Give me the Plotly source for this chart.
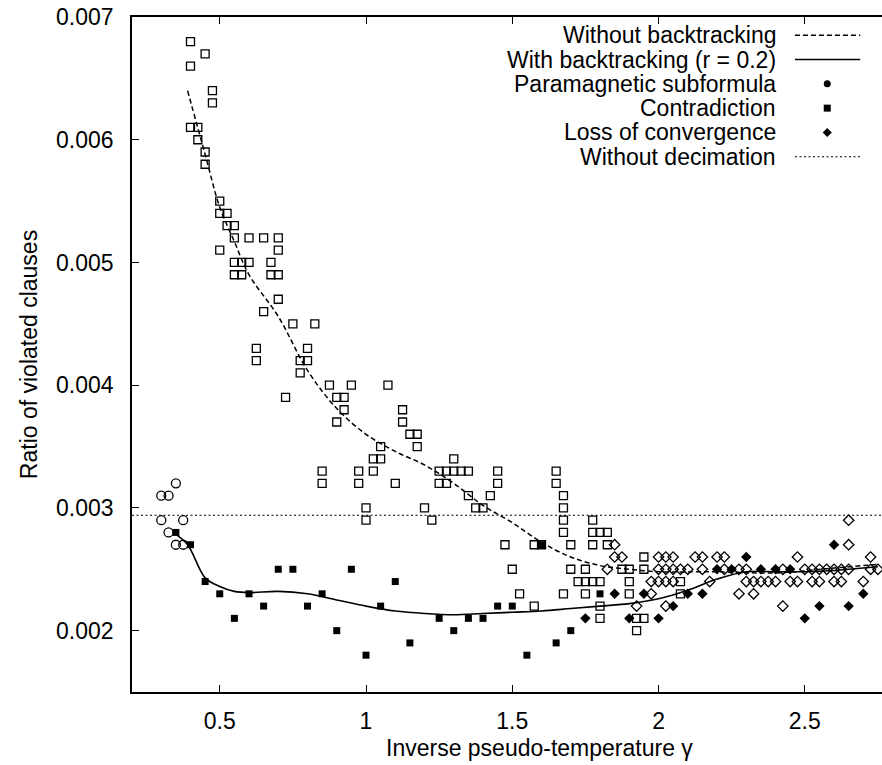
import plotly.graph_objects as go

# ---- Curves (fits) ----
nobt_x = [0.39, 0.45, 0.5, 0.55, 0.6, 0.7, 0.8, 0.9, 1.0, 1.1, 1.2, 1.3, 1.4, 1.5,
          1.6, 1.7, 1.8, 1.9, 2.0, 2.2, 2.4, 2.6, 2.75]
nobt_y = [0.0064, 0.00588, 0.00545, 0.00517, 0.0049, 0.00456, 0.00412, 0.00381, 0.0036,
          0.00346, 0.00335, 0.0032, 0.00302, 0.00288, 0.00272, 0.0026, 0.00253, 0.0025,
          0.00248, 0.00248, 0.00247, 0.00251, 0.00254]

bt_x = [0.34, 0.39, 0.45, 0.5, 0.55, 0.6, 0.7, 0.8, 0.9, 1.0, 1.1, 1.2, 1.3, 1.4, 1.5,
        1.6, 1.7, 1.8, 1.9, 2.0, 2.1, 2.2, 2.3, 2.4, 2.5, 2.6, 2.7, 2.75]
bt_y = [0.0028, 0.0027, 0.00243, 0.00236, 0.00232, 0.00231, 0.00232, 0.0023, 0.00225,
        0.0022, 0.00216, 0.00214, 0.00213, 0.00214, 0.00215, 0.00216, 0.00218, 0.0022,
        0.00222, 0.00226, 0.00233, 0.00242, 0.00248, 0.00248, 0.00248, 0.00249,
        0.00251, 0.00252]

nodec_level = 0.00294

# ---- Runs without backtracking (open symbols) ----
contr_x = [0.4, 0.4, 0.4, 0.45, 0.45, 0.45, 0.425, 0.425, 0.475, 0.475,
           0.5, 0.5, 0.5, 0.525, 0.525, 0.55, 0.55, 0.55, 0.55, 0.575, 0.575,
           0.6, 0.6, 0.625, 0.625, 0.65, 0.65, 0.675, 0.675, 0.7, 0.7, 0.7, 0.7,
           0.725, 0.75, 0.775, 0.775, 0.8, 0.8, 0.825, 0.85, 0.85, 0.875, 0.9, 0.9,
           0.925, 0.925, 0.95, 0.975, 0.975, 1.0, 1.0, 1.025, 1.025, 1.05, 1.05,
           1.075, 1.1, 1.125, 1.125, 1.15, 1.175, 1.175, 1.2, 1.225, 1.25, 1.25,
           1.275, 1.275, 1.3, 1.3, 1.325, 1.35, 1.35, 1.375, 1.4, 1.425, 1.45, 1.45,
           1.475, 1.5, 1.525, 1.575, 1.6, 1.575, 1.65, 1.65, 1.675, 1.675, 1.675,
           1.675, 1.7, 1.7, 1.725, 1.675,
           1.775, 1.775, 1.8, 1.825, 1.775, 1.825, 1.95, 1.75, 1.875, 1.9, 1.95,
           1.75, 1.775, 1.8, 1.9, 2.075, 1.75, 1.9, 2.075, 1.8, 1.8, 1.925, 1.95,
           1.925]
contr_y = [0.0068, 0.0066, 0.0061, 0.0067, 0.0059, 0.0058, 0.0061, 0.0060, 0.0064, 0.0063,
           0.0055, 0.0054, 0.0051, 0.0054, 0.0053, 0.0053, 0.0052, 0.0050, 0.0049, 0.0050,
           0.0049, 0.0052, 0.0050, 0.0043, 0.0042, 0.0052, 0.0046, 0.0050, 0.0049,
           0.0052, 0.0051, 0.0049, 0.0047, 0.0039, 0.0045, 0.0042, 0.0041, 0.0043, 0.0042,
           0.0045, 0.0033, 0.0032, 0.0040, 0.0039, 0.0037, 0.0039, 0.0038, 0.0040,
           0.0033, 0.0032, 0.0030, 0.0029, 0.0034, 0.0033, 0.0035, 0.0034, 0.0040,
           0.0032, 0.0038, 0.0037, 0.0036, 0.0036, 0.0035, 0.0030, 0.0029, 0.0033,
           0.0032, 0.0033, 0.0032, 0.0034, 0.0033, 0.0033, 0.0033, 0.0031, 0.0030,
           0.0030, 0.0031, 0.0033, 0.0032, 0.0027, 0.0025, 0.0023, 0.0027, 0.0027,
           0.0022, 0.0033, 0.0032, 0.0031, 0.0030, 0.0029, 0.0028, 0.0027, 0.0025,
           0.0024, 0.0023,
           0.0029, 0.0028, 0.0028, 0.0028, 0.0027, 0.0027, 0.0026, 0.0025, 0.0025,
           0.0025, 0.0025, 0.0024, 0.0024, 0.0024, 0.0024, 0.0024, 0.0023, 0.0023,
           0.0023, 0.0022, 0.0021, 0.0021, 0.0021, 0.0020]

para_x = [0.35, 0.3, 0.325, 0.3, 0.375, 0.325, 0.35, 0.375]
para_y = [0.0032, 0.0031, 0.0031, 0.0029, 0.0029, 0.0028, 0.0027, 0.0027]

loss_x = [2.65, 1.85, 2.65,
          1.85, 1.875, 2.0, 2.025, 2.05, 2.125, 2.15, 2.2, 2.225, 2.475, 2.725,
          1.825, 2.0, 2.025, 2.05, 2.075, 2.1, 2.15, 2.225, 2.275, 2.3, 2.425, 2.5,
          2.525, 2.55, 2.575, 2.6, 2.625, 2.65, 2.725, 2.75,
          1.975, 2.0, 2.025, 2.05, 2.175, 2.3, 2.325, 2.35, 2.375, 2.4, 2.45, 2.475,
          2.525, 2.55, 2.6, 2.625, 2.7,
          1.975, 2.275, 2.325, 1.925, 2.025, 2.425]
loss_y = [0.0029, 0.0027, 0.0027,
          0.0026, 0.0026, 0.0026, 0.0026, 0.0026, 0.0026, 0.0026, 0.0026, 0.0026,
          0.0026, 0.0026,
          0.0025, 0.0025, 0.0025, 0.0025, 0.0025, 0.0025, 0.0025, 0.0025, 0.0025,
          0.0025, 0.0025, 0.0025, 0.0025, 0.0025, 0.0025, 0.0025, 0.0025, 0.0025,
          0.0025, 0.0025,
          0.0024, 0.0024, 0.0024, 0.0024, 0.0024, 0.0024, 0.0024, 0.0024, 0.0024,
          0.0024, 0.0024, 0.0024, 0.0024, 0.0024, 0.0024, 0.0024, 0.0024,
          0.0023, 0.0023, 0.0023, 0.0022, 0.0022, 0.0022]

# ---- Runs with backtracking r = 0.2 (filled symbols) ----
bt_contr_x = [0.35, 0.4, 0.45, 0.5, 0.55, 0.6, 0.65, 0.7, 0.75, 0.8, 0.85, 0.9, 0.95,
              1.0, 1.05, 1.1, 1.15, 1.25, 1.3, 1.35, 1.4, 1.45, 1.5, 1.55, 1.6, 1.65,
              1.7, 1.8]
bt_contr_y = [0.0028, 0.0027, 0.0024, 0.0023, 0.0021, 0.0023, 0.0022, 0.0025, 0.0025,
              0.0022, 0.0023, 0.0020, 0.0025, 0.0018, 0.0022, 0.0024, 0.0019, 0.0021,
              0.0020, 0.0021, 0.0021, 0.0022, 0.0022, 0.0018, 0.0027, 0.0019, 0.0020,
              0.0023]

bt_loss_x = [1.75, 1.85, 1.9, 1.95, 2.0, 2.05, 2.1, 2.15, 2.2, 2.25, 2.3, 2.35, 2.4,
             2.45, 2.5, 2.55, 2.6, 2.65, 2.7]
bt_loss_y = [0.0021, 0.0023, 0.0021, 0.0023, 0.0021, 0.0022, 0.0023, 0.0023, 0.0025,
             0.0025, 0.0026, 0.0025, 0.0025, 0.0025, 0.0021, 0.0022, 0.0027, 0.0022,
             0.0023]

x_ticks = [0.5, 1, 1.5, 2, 2.5]
x_labels = ["0.5", "1", "1.5", "2", "2.5"]
y_ticks = [0.002, 0.003, 0.004, 0.005, 0.006, 0.007]
y_labels = ["0.002", "0.003", "0.004", "0.005", "0.006", "0.007"]

legend_labels = ["Without backtracking", "With backtracking (r = 0.2)",
                 "Paramagnetic subformula", "Contradiction", "Loss of convergence",
                 "Without decimation"]
x_title = "Inverse pseudo-temperature γ"
y_title = "Ratio of violated clauses"

FONT = "Liberation Sans"
INK = "black"
FS = 23

fig = go.Figure()

fig.add_trace(go.Scatter(x=nobt_x, y=nobt_y, mode="lines", line_shape="spline",
                         line=dict(color=INK, width=1.5, dash="5px,3px")))
fig.add_trace(go.Scatter(x=bt_x, y=bt_y, mode="lines", line_shape="spline",
                         line=dict(color=INK, width=1.6)))
fig.add_trace(go.Scatter(x=[0.2, 2.764], y=[nodec_level, nodec_level], mode="lines",
                         line=dict(color=INK, width=1.1, dash="2px,2.5px")))

open_line = dict(color=INK, width=1.3)
fig.add_trace(go.Scatter(x=contr_x, y=contr_y, mode="markers",
                         marker=dict(symbol="square-open", size=8, color=INK, line=open_line)))
fig.add_trace(go.Scatter(x=para_x, y=para_y, mode="markers",
                         marker=dict(symbol="circle-open", size=9, color=INK, line=open_line)))
fig.add_trace(go.Scatter(x=loss_x, y=loss_y, mode="markers",
                         marker=dict(symbol="diamond-open", size=8, color=INK, line=open_line)))
fig.add_trace(go.Scatter(x=bt_contr_x, y=bt_contr_y, mode="markers",
                         marker=dict(symbol="square", size=7, color=INK)))
fig.add_trace(go.Scatter(x=bt_loss_x, y=bt_loss_y, mode="markers",
                         marker=dict(symbol="diamond", size=8, color=INK)))

# Key drawn in the upper right corner, gnuplot style (text then sample)
key_y = [0.973, 0.937, 0.901, 0.865, 0.829, 0.793]
key_text_x = 0.861
key_line = (0.884, 0.971)
key_mark_x = 0.927
for label, ky in zip(legend_labels, key_y):
    fig.add_annotation(x=key_text_x, y=ky, xref="paper", yref="paper", text=label,
                       showarrow=False, xanchor="right", yanchor="middle",
                       font=dict(family=FONT, size=FS, color=INK))
key_dashes = {0: ("5px,3px", 1.5), 1: (None, 1.6), 5: ("2px,2.5px", 1.1)}
for idx, (dash, w) in key_dashes.items():
    fig.add_shape(type="line", xref="paper", yref="paper",
                  x0=key_line[0], x1=key_line[1], y0=key_y[idx], y1=key_y[idx],
                  line=dict(color=INK, width=w, dash=dash if dash else "solid"))
fig.add_trace(go.Scatter(x=[key_mark_x] * 3, y=key_y[2:5], mode="markers",
                         xaxis="x2", yaxis="y2",
                         marker=dict(symbol=["circle", "square", "diamond"], size=7,
                                     color=INK)))

# x-axis label, set a little right of the frame centre
fig.add_annotation(x=0.543, y=-0.083, xref="paper", yref="paper", text=x_title,
                   showarrow=False, xanchor="center", yanchor="middle",
                   font=dict(family=FONT, size=FS, color=INK))

fig.update_layout(
    width=882, height=765,
    margin=dict(l=132, r=0, t=17, b=73),
    paper_bgcolor="white", plot_bgcolor="white",
    showlegend=False,
    font=dict(family=FONT, size=FS, color=INK),
    xaxis=dict(range=[0.2, 2.764], tickvals=x_ticks, ticktext=x_labels,
               ticks="inside", ticklen=7, tickwidth=1, tickcolor=INK,
               showline=True, linecolor=INK, linewidth=1.5, mirror="ticks",
               showgrid=False, zeroline=False, ticklabelstandoff=8),
    yaxis=dict(range=[0.0015, 0.007], tickvals=y_ticks, ticktext=y_labels,
               ticks="inside", ticklen=7, tickwidth=1, tickcolor=INK,
               showline=True, linecolor=INK, linewidth=1.5, mirror=False,
               showgrid=False, zeroline=False, ticklabelstandoff=12,
               title=dict(text=y_title, standoff=12, font=dict(size=FS))),
    xaxis2=dict(range=[0, 1], overlaying="x", visible=False),
    yaxis2=dict(range=[0, 1], overlaying="y", visible=False),
)

fig.write_html("out.html")
